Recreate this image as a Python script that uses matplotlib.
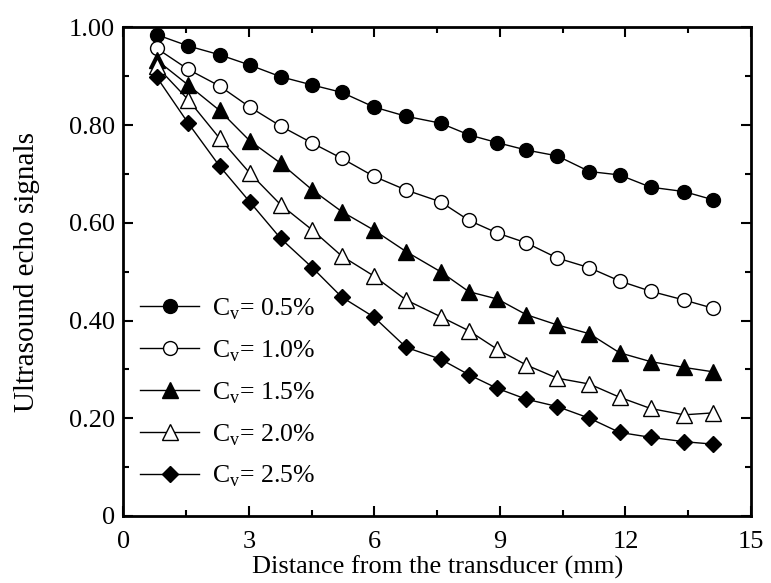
import matplotlib
matplotlib.use("Agg")
import matplotlib.pyplot as plt
from matplotlib.ticker import MultipleLocator

plt.rcParams['font.family'] = ['Liberation Serif', 'DejaVu Serif']
plt.rcParams['mathtext.fontset'] = 'custom'
plt.rcParams['mathtext.rm'] = 'Liberation Serif'

distance = [0.8, 1.55, 2.3, 3.02, 3.76, 4.52, 5.22, 5.99, 6.76, 7.58, 8.26, 8.94,
            9.63, 10.37, 11.14, 11.86, 12.6, 13.4, 14.1]

cv_05 = [0.985, 0.962, 0.944, 0.923, 0.899, 0.882, 0.867, 0.837, 0.818, 0.804,
         0.780, 0.764, 0.749, 0.737, 0.705, 0.698, 0.673, 0.664, 0.647]
cv_10 = [0.957, 0.914, 0.880, 0.837, 0.798, 0.763, 0.732, 0.695, 0.667, 0.643,
         0.605, 0.579, 0.559, 0.528, 0.508, 0.481, 0.460, 0.442, 0.425]
cv_15 = [0.933, 0.882, 0.830, 0.768, 0.722, 0.667, 0.623, 0.585, 0.541, 0.500,
         0.459, 0.444, 0.412, 0.391, 0.373, 0.334, 0.316, 0.304, 0.295]
cv_20 = [0.920, 0.852, 0.773, 0.702, 0.637, 0.585, 0.532, 0.491, 0.442, 0.408,
         0.379, 0.341, 0.309, 0.282, 0.270, 0.243, 0.220, 0.207, 0.211]
cv_25 = [0.898, 0.804, 0.716, 0.643, 0.568, 0.508, 0.448, 0.407, 0.345, 0.321,
         0.289, 0.261, 0.239, 0.224, 0.200, 0.171, 0.161, 0.152, 0.147]

labels = ['0.5%', '1.0%', '1.5%', '2.0%', '2.5%']
series = [cv_05, cv_10, cv_15, cv_20, cv_25]
markers = ['o', 'o', '^', '^', 'D']
fills = ['black', 'white', 'black', 'white', 'black']
msizes = [10, 10, 11, 11, 8.5]

x_ticks = [0, 3, 6, 9, 12, 15]
y_ticks = [0, 0.2, 0.4, 0.6, 0.8, 1.0]
y_ticklabels = ['0', '0.20', '0.40', '0.60', '0.80', '1.00']

fig = plt.figure(figsize=(7.71, 5.83), dpi=100)
ax = fig.add_axes([0.160, 0.115, 0.814, 0.838])

for vals, lab, m, fc, ms in zip(series, labels, markers, fills, msizes):
    ax.plot(distance, vals, color='black', lw=1.0, marker=m, markersize=ms,
            markerfacecolor=fc, markeredgecolor='black', markeredgewidth=1.0,
            label=r'C$_\mathregular{v}$= ' + lab)

ax.set_xlim(0, 15)
ax.set_ylim(0, 1.0)
ax.set_xticks(x_ticks)
ax.set_xticklabels([str(t) for t in x_ticks])
ax.set_yticks(y_ticks)
ax.set_yticklabels(y_ticklabels)
ax.xaxis.set_minor_locator(MultipleLocator(1.5))
ax.yaxis.set_minor_locator(MultipleLocator(0.1))
ax.tick_params(which='both', direction='in', top=True, right=True, width=1.5,
               labelsize=19)
ax.tick_params(which='major', length=7)
ax.tick_params(which='minor', length=4)
ax.tick_params(axis='x', pad=11)
ax.tick_params(axis='y', pad=6)
for sp in ax.spines.values():
    sp.set_linewidth(2)

ax.set_xlabel('Distance from the transducer (mm)', fontsize=19, labelpad=2)
ax.set_ylabel('Ultrasound echo signals', fontsize=21)
ax.yaxis.set_label_coords(-0.133, 0.5)

ax.legend(loc='lower left', bbox_to_anchor=(0.0, 0.02), frameon=False,
          fontsize=18.5, handlelength=2.3, handletextpad=0.5, labelspacing=0.64,
          borderaxespad=0.25)

fig.savefig('out.png', dpi=100)
